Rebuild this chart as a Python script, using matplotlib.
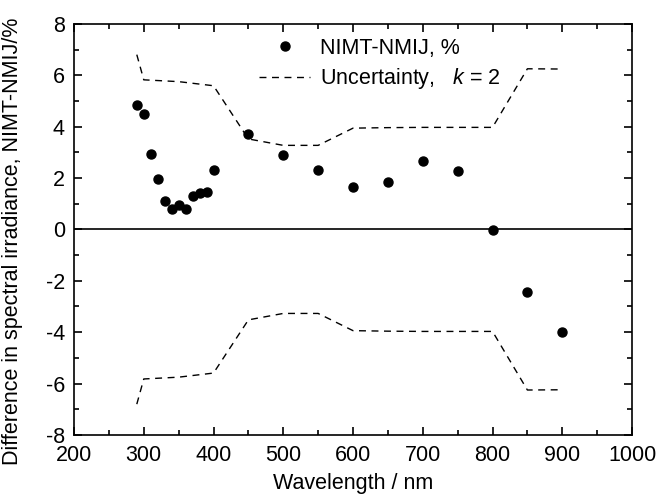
import numpy as np
import matplotlib
matplotlib.use("Agg")
import matplotlib.pyplot as plt
from matplotlib.ticker import MultipleLocator

plt.rcParams['font.family'] = ['Liberation Sans', 'DejaVu Sans']
plt.rcParams['mathtext.fontset'] = 'custom'
plt.rcParams['mathtext.it'] = 'Liberation Sans:italic'
plt.rcParams['mathtext.rm'] = 'Liberation Sans'
plt.rcParams['axes.unicode_minus'] = False

# данные
wavelength = [290, 300, 310, 320, 330, 340, 350, 360, 370, 380, 390, 400,
              450, 500, 550, 600, 650, 700, 750, 800, 850, 900]
difference = [4.86, 4.50, 2.95, 1.96, 1.09, 0.79, 0.95, 0.79, 1.30, 1.40, 1.47, 2.30,
              3.72, 2.89, 2.31, 1.66, 1.84, 2.67, 2.27, -0.04, -2.45, -4.01]

unc_wavelength = [290, 300, 350, 400, 450, 500, 550, 600, 650, 700, 750, 800, 850, 900]
uncertainty = [6.80, 5.82, 5.75, 5.59, 3.52, 3.27, 3.27, 3.94, 3.96, 3.97, 3.97, 3.97, 6.25, 6.24]

FS = 15.5

fig = plt.figure(figsize=(6.58, 4.96), dpi=100)
ax = fig.add_axes([0.1125, 0.123, 0.848, 0.829])

ax.axhline(0, color='black', lw=1.2)
ax.plot(wavelength, difference, 'o', color='black', ms=6.5, label='NIMT-NMIJ, %')
unc = np.array(uncertainty)
ax.plot(unc_wavelength, unc, '--', color='black', lw=1.0, dashes=(5, 4),
        label='Uncertainty,   $k$ = 2')
ax.plot(unc_wavelength, -unc, '--', color='black', lw=1.0, dashes=(5, 4))

ax.set_xlim(200, 1000)
ax.set_ylim(-8, 8)
ax.xaxis.set_major_locator(MultipleLocator(100))
ax.xaxis.set_minor_locator(MultipleLocator(50))
ax.yaxis.set_major_locator(MultipleLocator(2))
ax.yaxis.set_minor_locator(MultipleLocator(1))
ax.tick_params(which='both', direction='in', top=True, right=True, labelsize=FS, width=1.2)
ax.tick_params(which='major', length=6)
ax.tick_params(which='minor', length=3.5)
ax.tick_params(axis='x', which='major', pad=7)
ax.tick_params(axis='y', which='major', pad=6.5)
for s in ax.spines.values():
    s.set_linewidth(1.2)

ax.set_xlabel('Wavelength / nm', fontsize=FS, labelpad=5)
ax.set_ylabel('Difference in spectral irradiance, NIMT-NMIJ/%', fontsize=FS)
ax.yaxis.set_label_coords(-0.092, 0.472)

ax.legend(loc='upper right', frameon=False, fontsize=FS, handlelength=2.4,
          bbox_to_anchor=(0.79, 1.0), borderaxespad=0.25, labelspacing=0.35,
          handletextpad=0.45)

fig.savefig('out.png', dpi=100)
